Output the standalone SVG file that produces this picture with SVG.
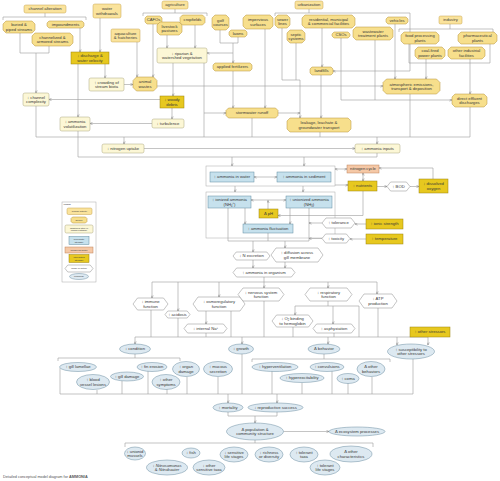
<svg xmlns="http://www.w3.org/2000/svg" width="500" height="481" viewBox="0 0 500 481">
<style>
.ha{fill:#fae39c;stroke:#c6a24c;stroke-width:.5}
.src{fill:#f7df8c;stroke:#b4913a;stroke-width:.5;stroke-linejoin:round}
.step{fill:#fcf7d6;stroke:#aaa47c;stroke-width:.5}
.prox{fill:#c6e1ed;stroke:#5f8ba0;stroke-width:.5}
.mod{fill:#f5c8a6;stroke:#bf835b;stroke-width:.5}
.int{fill:#e7c81f;stroke:#9a820e;stroke-width:.5}
.moa{fill:#fff;stroke:#8a8a8a;stroke-width:.5}
.resp{fill:#dde9f1;stroke:#6b8ca0;stroke-width:.5}
.grp{fill:none;stroke:#a8a8a8;stroke-width:.5}
.ln{fill:none;stroke:#9c9c9c;stroke-width:.6}
.ar{marker-end:url(#ah)}
.ab{marker-start:url(#ah);marker-end:url(#ah)}
text{font-family:"Liberation Sans",Arial,sans-serif;font-size:4.2px;fill:#383838;text-anchor:middle}
.lg{font-size:2.4px}
.cap{font-size:3.8px;text-anchor:start;fill:#555}
</style>
<defs>
<marker id="ah" viewBox="0 0 6 6" refX="5.6" refY="3" markerWidth="3" markerHeight="3" markerUnits="userSpaceOnUse" orient="auto-start-reverse">
<path d="M0.5,0.6 L5.6,3 L0.5,5.4" fill="none" stroke="#7c7c7c" stroke-width="1"/>
</marker>
</defs>
<rect width="500" height="481" fill="#fff"/>

<g id="connectors">
<path class="ln" d="M45,13V17M3,20V17H86V20"/>
<path class="ln" d="M20,33V53H49V46"/>
<path class="ln ar" d="M36,53V93"/>
<path class="ln ar" d="M80,28V52"/>
<path class="ln ar" d="M100,18V52"/>
<path class="ln ar" d="M105,64V78"/>
<path class="ln ar" d="M78,64V117"/>
<path class="ln ar" d="M124,84.5H133"/>
<path class="ln ar" d="M137,42V77"/>
<path class="ln ar" d="M153,24V77"/>
<path class="ln ar" d="M160,99.5H49"/>
<path class="ln ar" d="M172,108V119"/>
<path class="ln ar" d="M152,123.5H90"/>
<path class="ln" d="M175,9V13M143,16V13H207V16"/>
<path class="ln ar" d="M167,35V48"/>
<path class="ln ar" d="M195,25V48"/>
<path class="ln" d="M220,30V43H238V37"/>
<path class="ln ar" d="M233,43V63"/>
<path class="ln ar" d="M233,53H207"/>
<path class="ln ar" d="M233,71V108"/>
<path class="ln ar" d="M265,29V108"/>
<path class="ln ar" d="M173,63V96"/>
<path class="ln ar" d="M204,63V113H226"/>
<path class="ln" d="M204,113V137"/>
<path class="ln ar" d="M157,86H383"/>
<path class="ln" d="M309,9V13M275,16V13H410V71"/>
<path class="ln ar" d="M410,71H333"/>
<path class="ln" d="M282,28V80H300M296,43V80"/>
<path class="ln ar" d="M300,80V118"/>
<path class="ln ar" d="M322,28V67"/>
<path class="ln ar" d="M321,75V118"/>
<path class="ln" d="M341,38V100M375,40V100"/>
<path class="ln ar" d="M341,100H452"/>
<path class="ln ar" d="M395,24V79"/>
<path class="ln ar" d="M278,113H300"/>
<path class="ln" d="M450,24V29M399,32V29H493V32"/>
<path class="ln" d="M409,44V63H490V44"/>
<path class="ln ar" d="M426,59V79"/>
<path class="ln ar" d="M470,59V94"/>
<path class="ln" d="M410,94V137M470,107V137M252,118V137M320,132V137"/>
<path class="ln" d="M36,106V137H470"/>
<path class="ln ar" d="M124,137V144"/>
<path class="ln ar" d="M377,137V144"/>
<path class="ln ar" d="M144,148.5H355"/>
<path class="ln" d="M78,131V157H377V153"/>
<path class="ln ar" d="M232,157V166"/>
<path class="ln ar" d="M304,157V166"/>
<path class="ln ab" d="M254,177H277"/>
<path class="ln ab" d="M335,169H347"/>
<path class="ln ar" d="M433,179V168H379"/>
<path class="ln ab" d="M363,173V181"/>
<path class="ln ar" d="M335,185H348"/>
<path class="ln ar" d="M377,186.5H387"/>
<path class="ln ar" d="M410,186.5H419"/>
<path class="ln ar" d="M363,191V215.5H278"/>
<path class="ln ar" d="M235,186V192"/>
<path class="ln ar" d="M303,186V192"/>
<path class="ln ab" d="M251,200H286"/>
<path class="ln ar" d="M268,209V200.5"/>
<path class="ln ar" d="M245,208V224"/>
<path class="ln ar" d="M290,208V224"/>
<path class="ln" d="M228,208V241H309V208M268,233V241"/>
<path class="ln ar" d="M322,223H309"/>
<path class="ln ar" d="M322,238.5H309"/>
<path class="ln ar" d="M366,224H355"/>
<path class="ln ar" d="M366,239H350"/>
<path class="ln ar" d="M253,241V252"/>
<path class="ln ar" d="M285,241V248"/>
<path class="ln ar" d="M253,260V268"/>
<path class="ln ar" d="M285,262V268"/>
<path class="ln" d="M264,277V282M152,282H377"/>
<path class="ln ar" d="M152,282V298"/>
<path class="ln ar" d="M178,282V311"/>
<path class="ln ar" d="M219,282V297"/>
<path class="ln ar" d="M264,282V288"/>
<path class="ln ar" d="M328,282V288"/>
<path class="ln ar" d="M377,282V294"/>
<path class="ln ar" d="M206,311V324"/>
<path class="ln" d="M151,310V337M178,318V337M206,333V337M231,311V337M264,301V337M293,327V337M334,333V337M378,308V337"/>
<path class="ln" d="M328,301V306H359V337"/>
<path class="ln ar" d="M328,306H295V315"/>
<path class="ln ar" d="M333,306V324"/>
<path class="ln" d="M135,337H428"/>
<path class="ln ar" d="M135,337V344"/>
<path class="ln ar" d="M242,337V344"/>
<path class="ln ar" d="M328,337V344"/>
<path class="ln ar" d="M397,337V345"/>
<path class="ln ar" d="M428,337V345"/>
<path class="ln" d="M135,354V358M58,361V358H180V361"/>
<path class="ln" d="M324,354V359M252,362V359H390V362"/>
<path class="ln" d="M60,368V394H413V359M97,390V394M122,381V394M148,371V394M167,389V394M187,377V394M218,377V394M242,354V394M272,371V394M302,383V394M332,371V394M348,383V394M372,377V394"/>
<path class="ln ar" d="M228,394V403"/>
<path class="ln ar" d="M277,394V403"/>
<path class="ln" d="M228,412V416H277V412"/>
<path class="ln ar" d="M255,416V423"/>
<path class="ln ar" d="M283.5,431.5H329"/>
<path class="ln" d="M255,440V443M125,447V443H373V447"/>
</g>

<g id="legend">
<rect class="grp" x="62" y="202" width="34" height="80" fill="#fff"/>
<text class="lg" x="63.5" y="205" style="text-anchor:start;font-size:1.8px">LEGEND</text>
<rect class="ha" x="67" y="208" width="25" height="6.5" rx="1.5"/><text class="lg" x="79.5" y="212">human activity</text>
<polygon class="src" points="72.5,217 85.5,217 87,218.5 87,221.5 85.5,223 72.5,223 71,221.5 71,218.5"/><text class="lg" x="79" y="220.8">source</text>
<rect class="step" x="65" y="225" width="28" height="8" rx="1.5"/><text class="lg" x="79" y="228.5">additional step in</text><text class="lg" x="79" y="231.2">causal pathway</text>
<rect class="prox" x="69" y="236.5" width="20" height="8"/><text class="lg" x="79" y="240">proximate</text><text class="lg" x="79" y="242.7">stressor</text>
<rect class="mod" x="65" y="247" width="28" height="6"/><text class="lg" x="79" y="250.8">modifying factor</text>
<rect class="int" x="69" y="254.5" width="20" height="8"/><text class="lg" x="79" y="258">interacting</text><text class="lg" x="79" y="260.7">stressor</text>
<polygon class="moa" points="67.8,265 90.2,265 93,268.5 90.2,272 67.8,272 65,268.5"/><text class="lg" x="79" y="269.3">mode of action</text>
<ellipse class="resp" cx="79" cy="276.5" rx="9.5" ry="3"/><text class="lg" x="79" y="277.3">response</text>
</g>

<g id="n-channel-alteration"><rect class="ha" x="24" y="5" width="42" height="8" rx="1.8"/><text x="45" y="10.4">channel alteration</text></g>
<g id="n-water-withdrawals"><rect class="ha" x="93" y="4" width="28" height="14" rx="1.8"/><text x="107" y="10.3">water</text><text x="107" y="14.5">withdrawals</text></g>
<g id="n-buried"><polygon class="src" points="6,21 32,21 35,24 35,30 32,33 6,33 3,30 3,24"/><text x="19" y="26.3">buried &amp;</text><text x="19" y="30.5">piped streams</text></g>
<g id="n-impoundments"><polygon class="src" points="49,21 82,21 84,23 84,26 82,28 49,28 47,26 47,23"/><text x="65.5" y="25.9">impoundments</text></g>
<g id="n-channelized"><polygon class="src" points="35,33 70,33 73,36 73,43 70,46 35,46 32,43 32,36"/><text x="52.5" y="38.8">channelized &amp;</text><text x="52.5" y="43">armored streams</text></g>
<g id="n-discharge"><rect class="int" x="71" y="52" width="38" height="12"/><text x="90" y="57.3">↓ discharge &amp;</text><text x="90" y="61.5">water velocity</text></g>
<g id="n-crowding"><rect class="step" x="89" y="78" width="35" height="13" rx="1.8"/><text x="106.5" y="83.8">↑ crowding of</text><text x="106.5" y="88">stream biota</text></g>
<g id="n-aquaculture"><rect class="ha" x="111" y="29" width="29" height="13" rx="1.5"/><text x="125.5" y="34.8">aquaculture</text><text x="125.5" y="39">&amp; hatcheries</text></g>
<g id="n-animal-wastes"><polygon class="src" points="136.5,77 153.5,77 157,80.5 157,87.5 153.5,91 136.5,91 133,87.5 133,80.5"/><text x="145" y="83.3">animal</text><text x="145" y="87.5">wastes</text></g>
<g id="n-cafos"><polygon class="src" points="147,16 160,16 162,18 162,22 160,24 147,24 145,22 145,18"/><text x="153.5" y="21.4">CAFOs</text></g>
<g id="n-agriculture"><rect class="ha" x="162" y="1" width="26" height="8" rx="1.8"/><text x="175" y="6.4">agriculture</text></g>
<g id="n-livestock"><polygon class="src" points="160,22 179,22 182,25 182,32 179,35 160,35 157,32 157,25"/><text x="169.5" y="27.8">livestock</text><text x="169.5" y="32">pastures</text></g>
<g id="n-cropfields"><polygon class="src" points="182.5,15 202.5,15 205,17.5 205,22.5 202.5,25 182.5,25 180,22.5 180,17.5"/><text x="192.5" y="21.4">cropfields</text></g>
<g id="n-golf"><polygon class="src" points="215,15 226,15 229,18 229,27 226,30 215,30 212,27 212,18"/><text x="220.5" y="21.8">golf</text><text x="220.5" y="26">courses</text></g>
<g id="n-lawns"><polygon class="src" points="231,30 245,30 247,32 247,35 245,37 231,37 229,35 229,32"/><text x="238" y="34.9">lawns</text></g>
<g id="n-impervious"><polygon class="src" points="246,15 270,15 273,18 273,26 270,29 246,29 243,26 243,18"/><text x="258" y="21.3">impervious</text><text x="258" y="25.5">surfaces</text></g>
<g id="n-riparian"><rect class="step" x="157" y="48" width="50" height="15" rx="1.8"/><text x="182" y="54.8">↓ riparian &amp;</text><text x="182" y="59">watershed vegetation</text></g>
<g id="n-fertilizers"><polygon class="src" points="215,63 250,63 252,65 252,69 250,71 215,71 213,69 213,65"/><text x="232.5" y="68.4">applied fertilizers</text></g>
<g id="n-woody"><rect class="int" x="160" y="96" width="24" height="12"/><text x="172" y="101.3">↓ woody</text><text x="172" y="105.5">debris</text></g>
<g id="n-turbulence"><rect class="step" x="152" y="119" width="32" height="9" rx="1.8"/><text x="168" y="124.9">↓ turbulence</text></g>
<g id="n-stormwater"><polygon class="src" points="228.5,108 275.5,108 278,110.5 278,115.5 275.5,118 228.5,118 226,115.5 226,110.5"/><text x="252" y="114.4">stormwater runoff</text></g>
<g id="n-urbanization"><rect class="ha" x="295" y="1" width="28" height="8" rx="1.8"/><text x="309" y="6.4">urbanization</text></g>
<g id="n-sewer"><polygon class="src" points="278,15 287,15 290,18 290,25 287,28 278,28 275,25 275,18"/><text x="282.5" y="20.8">sewer</text><text x="282.5" y="25">lines</text></g>
<g id="n-septic"><polygon class="src" points="290,30 302,30 305,33 305,40 302,43 290,43 287,40 287,33"/><text x="296" y="35.8">septic</text><text x="296" y="40">systems</text></g>
<g id="n-residential"><polygon class="src" points="305,15 352,15 355,18 355,25 352,28 305,28 302,25 302,18"/><text x="328.5" y="20.8">residential, municipal</text><text x="328.5" y="25">&amp; commercial facilities</text></g>
<g id="n-csos"><polygon class="src" points="334,32 348,32 350,34 350,36 348,38 334,38 332,36 332,34"/><text x="341" y="36.4">CSOs</text></g>
<g id="n-wastewater"><polygon class="src" points="356,27 390,27 393,30 393,37 390,40 356,40 353,37 353,30"/><text x="373" y="32.8">wastewater</text><text x="373" y="37">treatment plants</text></g>
<g id="n-vehicles"><polygon class="src" points="388,17 406,17 408,19 408,22 406,24 388,24 386,22 386,19"/><text x="397" y="21.9">vehicles</text></g>
<g id="n-landfills"><polygon class="src" points="312,67 331,67 333,69 333,73 331,75 312,75 310,73 310,69"/><text x="321.5" y="72.4">landfills</text></g>
<g id="n-leakage"><polygon class="src" points="290,118 348,118 351,121 351,129 348,132 290,132 287,129 287,121"/><text x="319" y="124.3">leakage, leachate &amp;</text><text x="319" y="128.5">groundwater transport</text></g>
<g id="n-industry"><rect class="ha" x="439" y="16" width="23" height="8" rx="1.5"/><text x="450.5" y="21.4">industry</text></g>
<g id="n-food"><polygon class="src" points="404,32 436,32 439,35 439,41 436,44 404,44 401,41 401,35"/><text x="420" y="37.3">food processing</text><text x="420" y="41.5">plants</text></g>
<g id="n-pharma"><polygon class="src" points="461,32 494,32 497,35 497,41 494,44 461,44 458,41 458,35"/><text x="477.5" y="37.3">pharmaceutical</text><text x="477.5" y="41.5">plants</text></g>
<g id="n-coal"><polygon class="src" points="418,47 442,47 445,50 445,56 442,59 418,59 415,56 415,50"/><text x="430" y="52.3">coal-fired</text><text x="430" y="56.5">power plants</text></g>
<g id="n-other-industrial"><polygon class="src" points="451,47 482,47 485,50 485,56 482,59 451,59 448,56 448,50"/><text x="466.5" y="52.3">other industrial</text><text x="466.5" y="56.5">facilities</text></g>
<g id="n-atmospheric"><polygon class="src" points="386.5,79 436.5,79 440,82.5 440,90.5 436.5,94 386.5,94 383,90.5 383,82.5"/><text x="411.5" y="85.8">atmospheric emissions,</text><text x="411.5" y="90">transport &amp; deposition</text></g>
<g id="n-direct-effluent"><polygon class="src" points="455,94 484,94 487,97 487,104 484,107 455,107 452,104 452,97"/><text x="469.5" y="99.8">direct effluent</text><text x="469.5" y="104">discharges</text></g>
<g id="n-channel-complexity"><rect class="step" x="23" y="93" width="26" height="13" rx="1.8"/><text x="36" y="98.8">↓ channel</text><text x="36" y="103">complexity</text></g>
<g id="n-volatilization"><rect class="step" x="60" y="117" width="30" height="14" rx="1.8"/><text x="75" y="123.3">↓ ammonia</text><text x="75" y="127.5">volatilization</text></g>
<g id="n-nitrogen-uptake"><rect class="step" x="102" y="144" width="42" height="9" rx="1.8"/><text x="123" y="149.9">↓ nitrogen uptake</text></g>
<g id="n-ammonia-inputs"><rect class="step" x="355" y="144" width="45" height="9" rx="1.8"/><text x="377.5" y="149.9">↑ ammonia inputs</text></g>

<g id="g-ammonia-env"><rect class="grp" x="206" y="166" width="129" height="20"/></g>
<g id="n-ammonia-water"><rect class="prox" x="210" y="172" width="44" height="10"/><text x="232" y="178.4">↑ ammonia in water</text></g>
<g id="n-ammonia-sediment"><rect class="prox" x="277" y="172" width="54" height="10"/><text x="304" y="178.4">↑ ammonia in sediment</text></g>
<g id="n-nitrogen-cycle"><rect class="mod" x="347" y="165" width="32" height="8"/><text x="363" y="170.4">nitrogen cycle</text></g>
<g id="n-nutrients"><rect class="int" x="348" y="181" width="29" height="10"/><text x="362.5" y="187.4">↑ nutrients</text></g>
<g id="n-bod"><polygon class="moa" points="390.6,182 406.4,182 410,186.5 406.4,191 390.6,191 387,186.5"/><text x="398.5" y="187.9">↑ BOD</text></g>
<g id="n-do"><rect class="int" x="419" y="179" width="29" height="14"/><text x="433.5" y="185.3">↓ dissolved</text><text x="433.5" y="189.5">oxygen</text></g>
<g id="g-ammonia-forms"><rect class="grp" x="206" y="192" width="129" height="46"/></g>
<g id="n-ionized"><rect class="prox" x="208" y="196" width="43" height="12"/><text x="229.5" y="201.3">↑ ionized ammonia</text><text x="229.5" y="205.5">(NH<tspan font-size="2.6" dy="1">4</tspan><tspan font-size="2.6" dy="-2.2">+</tspan><tspan dy="1.2">)</tspan></text></g>
<g id="n-unionized"><rect class="prox" x="286" y="196" width="46" height="12"/><text x="309" y="201.3">↑ unionized ammonia</text><text x="309" y="205.5">(NH<tspan font-size="2.6" dy="1">3</tspan><tspan dy="-1">)</tspan></text></g>
<g id="n-ph"><rect class="int" x="259" y="209" width="19" height="9"/><text x="268.5" y="214.9">Δ pH</text></g>
<g id="n-fluctuation"><rect class="prox" x="243" y="224" width="50" height="9"/><text x="268" y="229.9">↑ ammonia fluctuation</text></g>
<g id="n-tolerance"><polygon class="moa" points="326,218 351,218 355,223 351,228 326,228 322,223"/><text x="338.5" y="224.4">↑ tolerance</text></g>
<g id="n-toxicity"><polygon class="moa" points="325.6,234 346.4,234 350,238.5 346.4,243 325.6,243 322,238.5"/><text x="336" y="239.9">↑ toxicity</text></g>
<g id="n-ionic"><rect class="int" x="366" y="219" width="37" height="10"/><text x="384.5" y="225.4">↑ ionic strength</text></g>
<g id="n-temperature"><rect class="int" x="366" y="234" width="37" height="10"/><text x="384.5" y="240.4">↑ temperature</text></g>

<g id="n-n-excretion"><polygon class="moa" points="236.2,252 266.8,252 270,256 266.8,260 236.2,260 233,256"/><text x="251.5" y="257.4">↓ N excretion</text></g>
<g id="n-diffusion"><polygon class="moa" points="276,248 318,248 323,255 318,262 276,262 271,255"/><text x="297" y="254.3">↑ diffusion across</text><text x="297" y="258.5">gill membrane</text></g>
<g id="n-organism"><polygon class="moa" points="236.6,268 291.4,268 295,272.5 291.4,277 236.6,277 233,272.5"/><text x="264" y="273.9">↑ ammonia in organism</text></g>
<g id="n-immune"><polygon class="moa" points="137.5,298 163.5,298 168,304 163.5,310 137.5,310 133,304"/><text x="150.5" y="303.3">↓ immune</text><text x="150.5" y="307.5">function</text></g>
<g id="n-acidosis"><polygon class="moa" points="167.8,311 187.2,311 190,314.5 187.2,318 167.8,318 165,314.5"/><text x="177.5" y="315.9">↑ acidosis</text></g>
<g id="n-osmo"><polygon class="moa" points="198,297 240,297 245,304 240,311 198,311 193,304"/><text x="219" y="303.3">↓ osmoregulatory</text><text x="219" y="307.5">function</text></g>
<g id="n-sodium"><polygon class="moa" points="187.6,324 223.4,324 227,328.5 223.4,333 187.6,333 184,328.5"/><text x="205.5" y="329.9">↓ internal Na<tspan font-size="2.6" dy="-1.4">+</tspan></text></g>
<g id="n-nervous"><polygon class="moa" points="243,288 279,288 284,294.5 279,301 243,301 238,294.5"/><text x="261" y="293.8">↓ nervous system</text><text x="261" y="298">function</text></g>
<g id="n-respiratory"><polygon class="moa" points="310,288 347,288 352,294.5 347,301 310,301 305,294.5"/><text x="328.5" y="293.8">↓ respiratory</text><text x="328.5" y="298">function</text></g>
<g id="n-o2"><polygon class="moa" points="276.5,315 308.5,315 313,321 308.5,327 276.5,327 272,321"/><text x="292.5" y="320.3">↓ O<tspan font-size="2.6" dy="1">2</tspan><tspan dy="-1"> binding</tspan></text><text x="292.5" y="324.5">to hemoglobin</text></g>
<g id="n-asphyxiation"><polygon class="moa" points="316.6,324 351.4,324 355,328.5 351.4,333 316.6,333 313,328.5"/><text x="334" y="329.9">↑ asphyxiation</text></g>
<g id="n-atp"><polygon class="moa" points="364,294 392,294 397,301 392,308 364,308 359,301"/><text x="378" y="300.3">↓ ATP</text><text x="378" y="304.5">production</text></g>
<g id="n-other-stressors"><rect class="int" x="410" y="327" width="40" height="10"/><text x="430" y="333.4">↑ other stressors</text></g>

<g id="n-condition"><ellipse class="resp" cx="135" cy="349" rx="15.5" ry="5"/><text x="135" y="350.4">↓ condition</text></g>
<g id="n-growth"><ellipse class="resp" cx="241" cy="349" rx="12.5" ry="5"/><text x="241" y="350.4">↓ growth</text></g>
<g id="n-behavior"><ellipse class="resp" cx="324" cy="349" rx="16" ry="5"/><text x="324" y="350.4">Δ behavior</text></g>
<g id="n-susceptibility"><ellipse class="resp" cx="411" cy="351.5" rx="23.5" ry="7.5"/><text x="411" y="350.8">↑ susceptibility to</text><text x="411" y="355">other stressors</text></g>
<g id="n-gill-lamellae"><ellipse class="resp" cx="78" cy="367" rx="18.5" ry="4.5"/><text x="78" y="368.4">↑ gill lamellae</text></g>
<g id="n-blood-vessel"><ellipse class="resp" cx="93" cy="382" rx="16.5" ry="7.5"/><text x="93" y="381.3">↑ blood</text><text x="93" y="385.5">vessel lesions</text></g>
<g id="n-gill-damage"><ellipse class="resp" cx="127" cy="376.5" rx="16.5" ry="4.5"/><text x="127" y="377.9">↑ gill damage</text></g>
<g id="n-fin-erosion"><ellipse class="resp" cx="152" cy="367" rx="15" ry="4.5"/><text x="152" y="368.4">↑ fin erosion</text></g>
<g id="n-other-symptoms"><ellipse class="resp" cx="166" cy="382" rx="14" ry="7.5"/><text x="166" y="381.3">↑ other</text><text x="166" y="385.5">symptoms</text></g>
<g id="n-organ-damage"><ellipse class="resp" cx="186" cy="369" rx="13.5" ry="7.5"/><text x="186" y="368.3">↑ organ</text><text x="186" y="372.5">damage</text></g>
<g id="n-mucous"><ellipse class="resp" cx="218" cy="369" rx="14.5" ry="7.5"/><text x="218" y="368.3">↑ mucous</text><text x="218" y="372.5">secretion</text></g>
<g id="n-hyperventilation"><ellipse class="resp" cx="275" cy="367" rx="23" ry="4.5"/><text x="275" y="368.4">↑ hyperventilation</text></g>
<g id="n-hyperexcitability"><ellipse class="resp" cx="302" cy="378" rx="22" ry="4.5"/><text x="302" y="379.4">↑ hyperexcitability</text></g>
<g id="n-convulsions"><ellipse class="resp" cx="327" cy="367" rx="17" ry="4.5"/><text x="327" y="368.4">↑ convulsions</text></g>
<g id="n-coma"><ellipse class="resp" cx="348" cy="378.5" rx="11" ry="5"/><text x="348" y="379.9">↑ coma</text></g>
<g id="n-other-behaviors"><ellipse class="resp" cx="371" cy="369" rx="14" ry="7.5"/><text x="371" y="368.3">Δ other</text><text x="371" y="372.5">behaviors</text></g>
<g id="n-mortality"><ellipse class="resp" cx="228" cy="407.5" rx="15" ry="4.5"/><text x="228" y="408.9">↑ mortality</text></g>
<g id="n-reproductive"><ellipse class="resp" cx="275.5" cy="407.5" rx="27.5" ry="4.5"/><text x="275.5" y="408.9">↓ reproductive success</text></g>
<g id="n-population"><ellipse class="resp" cx="255" cy="431.5" rx="28.5" ry="8.5"/><text x="255" y="430.8">Δ population &amp;</text><text x="255" y="435">community structure</text></g>
<g id="n-ecosystem"><ellipse class="resp" cx="357" cy="431.5" rx="28" ry="4.5"/><text x="357" y="432.9">Δ ecosystem processes</text></g>
<g id="n-unionid"><ellipse class="resp" cx="135" cy="453.5" rx="10.5" ry="6.5"/><text x="135" y="452.8">↓ unionid</text><text x="135" y="457">mussels</text></g>
<g id="n-nitrosomonas"><ellipse class="resp" cx="167" cy="467.5" rx="20.5" ry="7.5"/><text x="167" y="466.8">↓ <tspan font-style="italic">Nitrosomonas</tspan></text><text x="167" y="471">&amp; <tspan font-style="italic">Nitrobacter</tspan></text></g>
<g id="n-fish"><ellipse class="resp" cx="191" cy="453" rx="9" ry="5"/><text x="191" y="454.4">↓ fish</text></g>
<g id="n-other-taxa"><ellipse class="resp" cx="209" cy="467.5" rx="16" ry="7.5"/><text x="209" y="466.8">↓ other</text><text x="209" y="471">sensitive taxa</text></g>
<g id="n-sensitive-stages"><ellipse class="resp" cx="234" cy="454.5" rx="14" ry="7.5"/><text x="234" y="453.8">↓ sensitive</text><text x="234" y="458">life stages</text></g>
<g id="n-richness"><ellipse class="resp" cx="269" cy="454.5" rx="14" ry="7.5"/><text x="269" y="453.8">↓ richness</text><text x="269" y="458">or diversity</text></g>
<g id="n-tolerant-taxa"><ellipse class="resp" cx="304" cy="454.5" rx="14" ry="7.5"/><text x="304" y="453.8">↑ tolerant</text><text x="304" y="458">taxa</text></g>
<g id="n-tolerant-stages"><ellipse class="resp" cx="325" cy="467.5" rx="15" ry="7.5"/><text x="325" y="466.8">↑ tolerant</text><text x="325" y="471">life stages</text></g>
<g id="n-other-characteristics"><ellipse class="resp" cx="351" cy="454" rx="21" ry="8"/><text x="351" y="453.3">Δ other</text><text x="351" y="457.5">characteristics</text></g>

<text class="cap" x="3" y="477.5">Detailed conceptual model diagram for <tspan font-weight="bold">AMMONIA</tspan></text>
</svg>
